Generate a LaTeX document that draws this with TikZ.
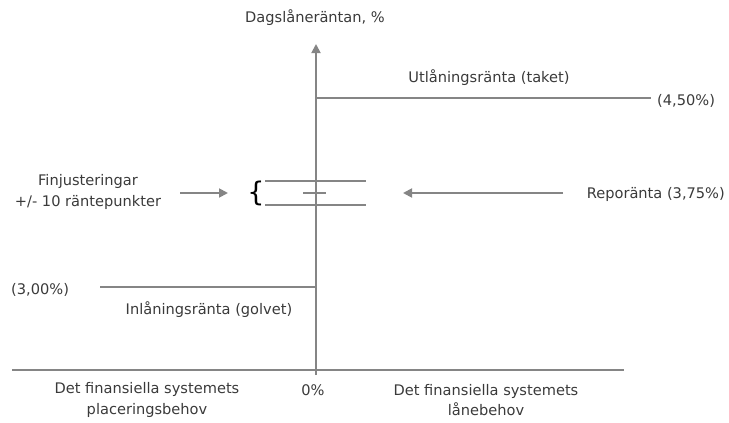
\documentclass[tikz,border=0pt]{standalone}
\usepackage{fontspec}
\setmainfont{DejaVu Sans}
\usetikzlibrary{arrows.meta}
\definecolor{ln}{HTML}{858585}
\definecolor{tx}{HTML}{3A3A3A}
\begin{document}
\begin{tikzpicture}[x=1pt,y=-1pt,
  lbl/.style={text=tx,font=\fontsize{14.6}{20.5}\selectfont,inner sep=0pt,align=center},
  ax/.style={draw=ln,line width=1.8pt},
  arr/.style={draw=ln,line width=1.8pt,-{Triangle[length=9pt,width=9pt]}}]
\useasboundingbox (0,0) rectangle (729,423);
% axes
\coordinate (vb) at (316,375);
\coordinate (vt) at (316,44);
\coordinate (hl) at (12,370);
\coordinate (hr) at (624,370);
\draw[ax] (hl) -- (hr);
\draw[arr] (vb) -- (vt);
\node[lbl] (ytitle) at (315,18) {Dagslåneräntan, \%};
% ceiling
\coordinate (c0) at (316,98);
\coordinate (c1) at (651,98);
\draw[ax] (c0) -- (c1);
\node[lbl,anchor=west] (c450) at (657,101) {(4,50\%)};
\node[lbl] (ceil) at (489,78) {Utlåningsränta (taket)};
% floor
\coordinate (f0) at (100,287);
\coordinate (f1) at (316,287);
\draw[ax] (f0) -- (f1);
\node[lbl,anchor=west] (f300) at (11,290) {(3,00\%)};
\node[lbl] (floor) at (209,310) {Inlåningsränta (golvet)};
% corridor
\coordinate (a0) at (265,181);
\coordinate (a1) at (366,181);
\coordinate (b0) at (265,205);
\coordinate (b1) at (366,205);
\coordinate (m0) at (303,193);
\coordinate (m1) at (326,193);
\draw[ax] (a0) -- (a1);
\draw[ax] (b0) -- (b1);
\draw[ax] (m0) -- (m1);
\node[text=black,inner sep=0pt,font=\fontsize{27}{27}\selectfont] (brace) at (256,193) {\{};
% fine tuning
\node[lbl] (fine) at (88,192) {Finjusteringar\\+/- 10 räntepunkter};
\coordinate (fa0) at (180,193);
\coordinate (fa1) at (228,193);
\draw[arr] (fa0) -- (fa1);
% repo
\node[lbl,anchor=east] (repo) at (725,194) {Reporänta (3,75\%)};
\coordinate (ra0) at (563,193);
\coordinate (ra1) at (403,193);
\draw[arr] (ra0) -- (ra1);
% bottom labels
\node[lbl] (left) at (147,400) {Det finansiella systemets\\placeringsbehov};
\node[lbl] (zero) at (313,390) {0\%};
\node[lbl] (right) at (486,400) {Det finansiella systemets\\lånebehov};
\end{tikzpicture}
\end{document}
